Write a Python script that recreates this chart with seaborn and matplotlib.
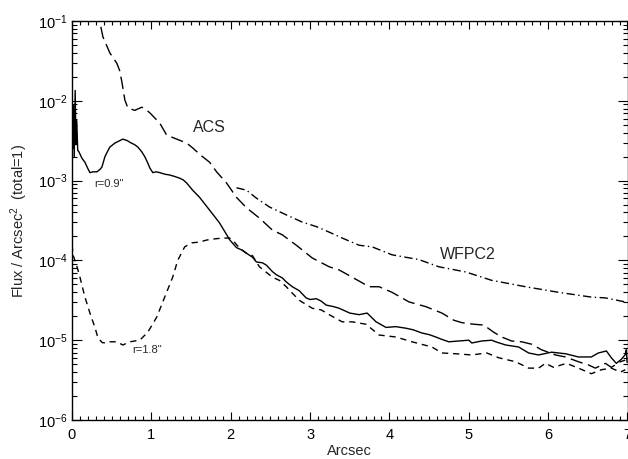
import numpy as np
import pandas as pd
import seaborn as sns
import matplotlib
matplotlib.use("Agg")
import matplotlib.pyplot as plt
from matplotlib.ticker import LogLocator, LogFormatterMathtext, MultipleLocator, NullFormatter

# ---- data (x in arcsec, log10 of flux per arcsec^2) ----
r09_x = [0.0, 0.008, 0.018, 0.028, 0.040, 0.050, 0.060, 0.072, 0.088, 0.125, 0.163, 0.20, 0.226, 0.264,
         0.314, 0.352, 0.377, 0.415, 0.45, 0.477, 0.54, 0.60, 0.64, 0.70, 0.729, 0.79, 0.83, 0.88, 0.917,
         0.955, 0.98, 1.018, 1.06, 1.106, 1.17, 1.231, 1.30, 1.357, 1.40, 1.445, 1.52, 1.608, 1.734, 1.859,
         1.95, 1.985, 2.073, 2.14, 2.198, 2.274, 2.324, 2.40, 2.45, 2.525, 2.575, 2.651, 2.70, 2.776, 2.864,
         2.95, 3.00, 3.078, 3.14, 3.203, 3.30, 3.367, 3.50, 3.618, 3.719, 3.832, 3.957, 4.08, 4.209, 4.30,
         4.41, 4.50, 4.585, 4.661, 4.749, 4.874, 5.0, 5.038, 5.163, 5.289, 5.339, 5.465, 5.628, 5.754, 5.879,
         6.043, 6.219, 6.382, 6.545, 6.633, 6.734, 6.796, 6.859, 6.922, 6.972, 6.985, 6.995]
r09_log = [-1.60, -2.60, -2.05, -2.70, -1.87, -2.55, -2.25, -2.62, -2.64, -2.72, -2.77, -2.85, -2.90, -2.89,
           -2.89, -2.86, -2.83, -2.70, -2.63, -2.58, -2.53, -2.50, -2.48, -2.50, -2.52, -2.55, -2.58, -2.64, -2.70,
           -2.78, -2.84, -2.90, -2.89, -2.90, -2.92, -2.93, -2.95, -2.97, -2.99, -3.03, -3.12, -3.21, -3.37, -3.53,
           -3.68, -3.74, -3.84, -3.87, -3.91, -3.96, -4.02, -4.03, -4.06, -4.14, -4.18, -4.22, -4.27, -4.33, -4.38,
           -4.47, -4.49, -4.48, -4.51, -4.56, -4.58, -4.60, -4.66, -4.68, -4.66, -4.77, -4.84, -4.83, -4.85, -4.87,
           -4.91, -4.93, -4.96, -4.99, -5.02, -5.01, -5.00, -5.035, -5.01, -5.00, -5.02, -5.06, -5.085, -5.16, -5.185,
           -5.15, -5.17, -5.21, -5.21, -5.16, -5.135, -5.22, -5.29, -5.24, -5.18, -5.12, -5.28]

acs_x = [0.33, 0.352, 0.39, 0.477, 0.565, 0.60, 0.628, 0.666, 0.704, 0.79, 0.88, 0.93, 0.98, 1.106, 1.193,
         1.294, 1.37, 1.445, 1.52, 1.62, 1.734, 1.822, 1.947, 2.073, 2.198, 2.362, 2.525, 2.651, 2.827, 3.028,
         3.241, 3.367, 3.53, 3.744, 3.869, 4.033, 4.246, 4.46, 4.661, 4.812, 4.912, 5.063, 5.188, 5.314, 5.415,
         5.54, 5.666, 5.791, 5.917, 6.093, 6.219, 6.382, 6.508, 6.595, 6.721, 6.796, 6.91, 6.972]
acs_log = [-0.85, -1.02, -1.20, -1.40, -1.53, -1.62, -1.76, -1.99, -2.09, -2.12, -2.08, -2.11, -2.15, -2.28, -2.43,
           -2.47, -2.50, -2.53, -2.59, -2.68, -2.77, -2.89, -3.03, -3.21, -3.34, -3.47, -3.62, -3.68, -3.81, -3.97,
           -4.08, -4.12, -4.21, -4.33, -4.33, -4.40, -4.52, -4.58, -4.66, -4.75, -4.78, -4.80, -4.81, -4.90, -4.96,
           -5.01, -5.02, -5.05, -5.12, -5.185, -5.21, -5.27, -5.31, -5.35, -5.29, -5.34, -5.27, -5.25]

wfpc2_x = [2.073, 2.198, 2.324, 2.487, 2.701, 2.902, 3.09, 3.25, 3.405, 3.618, 3.781, 4.033, 4.372, 4.623,
           4.962, 5.289, 5.716, 6.131, 6.545, 6.721, 6.972]
wfpc2_log = [-3.09, -3.12, -3.22, -3.33, -3.43, -3.52, -3.58, -3.65, -3.72, -3.81, -3.83, -3.93, -3.99, -4.08,
             -4.145, -4.25, -4.33, -4.40, -4.46, -4.47, -4.52]

r18_x = [0.0, 0.013, 0.063, 0.10, 0.163, 0.226, 0.289, 0.327, 0.38, 0.44, 0.477, 0.565, 0.64, 0.729, 0.854,
         0.955, 1.068, 1.168, 1.269, 1.332, 1.42, 1.508, 1.608, 1.696, 1.80, 1.897, 1.985, 2.023, 2.111, 2.198,
         2.274, 2.362, 2.45, 2.525, 2.613, 2.70, 2.776, 2.864, 3.028, 3.14, 3.241, 3.405, 3.53, 3.706, 3.869,
         4.083, 4.284, 4.535, 4.661, 4.837, 5.038, 5.226, 5.377, 5.59, 5.754, 5.879, 5.967, 6.068, 6.231, 6.382,
         6.545, 6.671, 6.796, 6.91, 6.972]
r18_log = [-3.80, -3.93, -4.08, -4.21, -4.46, -4.66, -4.84, -4.97, -5.03, -5.035, -5.02, -5.02, -5.06, -5.02, -5.00,
           -4.90, -4.71, -4.46, -4.21, -4.00, -3.83, -3.78, -3.77, -3.745, -3.73, -3.72, -3.72, -3.745, -3.845, -3.91,
           -3.94, -4.08, -4.15, -4.21, -4.25, -4.33, -4.41, -4.50, -4.60, -4.62, -4.68, -4.77, -4.77, -4.80, -4.935,
           -4.96, -5.02, -5.085, -5.16, -5.17, -5.185, -5.16, -5.22, -5.27, -5.35, -5.35, -5.29, -5.34, -5.29, -5.35,
           -5.42, -5.37, -5.35, -5.40, -5.37]

x_ticks = [0, 1, 2, 3, 4, 5, 6, 7]
x_ticklabels = ["0", "1", "2", "3", "4", "5", "6", "7"]

# ---- styling ----
sns.set_theme(style="ticks")
plt.rcParams['font.family'] = ['Liberation Sans', 'DejaVu Sans']
plt.rcParams['mathtext.fontset'] = 'custom'
plt.rcParams['mathtext.rm'] = 'Liberation Sans'
plt.rcParams['mathtext.it'] = 'Liberation Sans:italic'
plt.rcParams['mathtext.bf'] = 'Liberation Sans:bold'

fig = plt.figure(figsize=(6.28, 4.59), dpi=100)
ax = fig.add_axes([72 / 628, 39 / 459, 555.5 / 628, 399 / 459])
ax.set_yscale('log')

def frame(xs, logs, name):
    return pd.DataFrame({"x": xs, "flux": np.power(10.0, logs), "series": name})

specs = [
    (frame(r09_x, r09_log, "r09"), "-"),
    (frame(acs_x, acs_log, "acs"), (0, (9, 4))),
    (frame(wfpc2_x, wfpc2_log, "wfpc2"), (0, (6, 2.5, 1, 2.5))),
    (frame(r18_x, r18_log, "r18"), (0, (4.5, 3.5))),
]
for df, ls in specs:
    sns.lineplot(data=df, x="x", y="flux", ax=ax, sort=False, estimator=None,
                 color="black", linewidth=1.0, linestyle=ls, legend=False)

ax.set_xlim(0, 7)
ax.set_ylim(1e-6, 1e-1)
ax.set_xticks(x_ticks)
ax.set_xticklabels(x_ticklabels)
ax.xaxis.set_minor_locator(MultipleLocator(0.1))
ax.yaxis.set_major_locator(LogLocator(base=10, numticks=10))
ax.yaxis.set_major_formatter(LogFormatterMathtext())
ax.yaxis.set_minor_locator(LogLocator(base=10, subs=np.arange(2, 10), numticks=20))
ax.yaxis.set_minor_formatter(NullFormatter())

ax.tick_params(which='both', direction='in', top=True, right=True, colors='black',
               labelsize=10.5, width=0.8)
ax.tick_params(axis='x', which='major', length=6, pad=6)
ax.tick_params(axis='x', which='minor', length=3)
ax.tick_params(axis='y', which='major', length=7, pad=3)
ax.tick_params(axis='y', which='minor', length=3.5)
for s in ax.spines.values():
    s.set_linewidth(1.0)
    s.set_color('black')

ax.set_xlabel("Arcsec", fontsize=10.5, labelpad=1)
ax.set_ylabel("Flux / Arcsec$^2$  (total=1)", fontsize=10.5, labelpad=6)

ax.text(1.734, 10 ** -2.33, "ACS", fontsize=11.5, ha="center", va="center")
ax.text(4.99, 10 ** -3.92, "WFPC2", fontsize=11.5, ha="center", va="center")
ax.text(0.465, 10 ** -3.04, "r=0.9\"", fontsize=8, ha="center", va="center")
ax.text(0.94, 10 ** -5.12, "r=1.8\"", fontsize=8, ha="center", va="center")

fig.savefig("out.png", dpi=100)
